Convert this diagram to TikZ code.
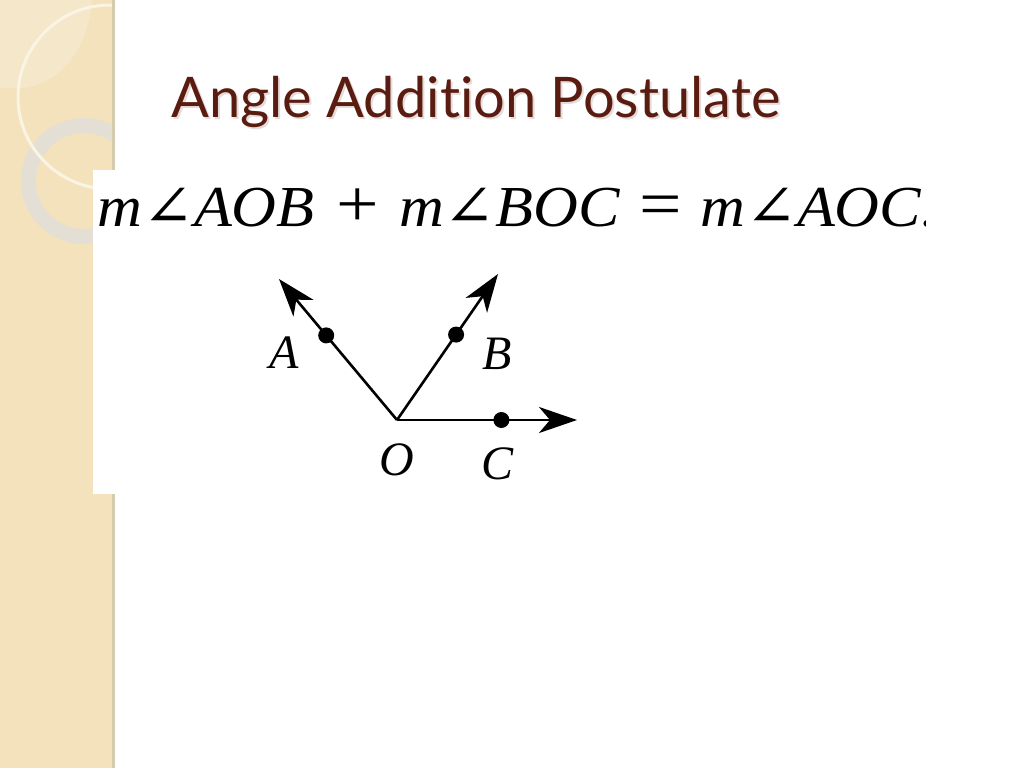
\documentclass[tikz,border=0pt]{standalone}
\usepackage{fontspec}
\setmainfont{Liberation Serif}
\newfontfamily\titlefont[Ligatures=NoCommon]{Lato}
\newfontfamily\symbfont{DejaVu Serif}
\usetikzlibrary{positioning, arrows.meta, calc}
\definecolor{stripbeige}{HTML}{F3E2BC}
\definecolor{stripedge}{HTML}{D6CAAE}
\definecolor{ringgray}{HTML}{E4DFD5}
\definecolor{titlebrown}{HTML}{5A1C10}
\newcommand{\mang}[1]{\scalebox{1.07}[1]{\textit{m}{\symbfont ∠}\textit{#1}}}
\newcommand{\bigop}[1]{\scalebox{1.3}[1.15]{#1}}

\begin{document}
\begin{tikzpicture}[x=1pt, y=-1pt, every node/.style={inner sep=0pt}]
  \tikzstyle{ray} = [line width=2.6pt, -{Stealth[length=38pt, width=26pt, inset=11pt]}]
  \tikzstyle{dot} = [circle, fill=black, minimum size=16pt]
  \tikzstyle{lbl} = [font=\fontsize{48}{48}\selectfont\itshape]

  \useasboundingbox (0,0) rectangle (1024,768);
  \fill[white] (0,0) rectangle (1024,768);

  % side strip
  \fill[stripedge] (111,0) rectangle (115,768);
  \fill[stripbeige] (0,0) rectangle (112,768);
  \begin{scope}
    \clip (0,0) rectangle (112,768);
    \fill[white, opacity=0.22] (0,0) -- (92,0) .. controls (88,50) and (60,85) .. (20,88) -- (0,88) -- cycle;
    \draw[ringgray, line width=15pt] (84,181) circle[radius=55.5];
    \draw[white!60!stripbeige, line width=3pt] (110,97) circle[radius=92];
  \end{scope}

  % pasted picture
  \fill[white] (93,170) rectangle (925,494);

  \node[anchor=base west, text=titlebrown!50, opacity=0.3, font=\titlefont\fontsize{56}{56}\selectfont] at (173,119) {Angle Addition Postulate};
  \node[anchor=base west, text=titlebrown, font=\titlefont\fontsize{56}{56}\selectfont] (title) at (171,117) {Angle Addition Postulate};
  \begin{scope}
    \clip (93,170) rectangle (925,494);
    \node[anchor=base west, font=\fontsize{58}{58}\selectfont] (eq) at (97,226)
      {\mang{AOB}\hspace{22pt}\bigop{+}\hspace{20pt}\mang{BOC}\hspace{19pt}\bigop{=}\hspace{18pt}\mang{AOC.}};
  \end{scope}

  % rays
  \coordinate (O) at (397,420);
  \coordinate (Atip) at (279,279);
  \coordinate (Btip) at (498,274);
  \coordinate (Ctip) at (577,420);
  \node[dot] (dA) at ($(O)!0.6!(Atip)$) {};
  \node[dot] (dB) at ($(O)!0.585!(Btip)$) {};
  \node[dot] (dC) at ($(O)!0.58!(Ctip)$) {};

  \draw[ray] (O) -- (Atip);
  \draw[ray] (O) -- (Btip);
  \draw[ray] (O) -- (Ctip);

  \node[lbl] (lA) at (284,353) {A};
  \node[lbl] (lB) at (497,354) {B};
  \node[lbl] (lO) at (397,460) {O};
  \node[lbl] (lC) at (497,464) {C};
\end{tikzpicture}
\end{document}
